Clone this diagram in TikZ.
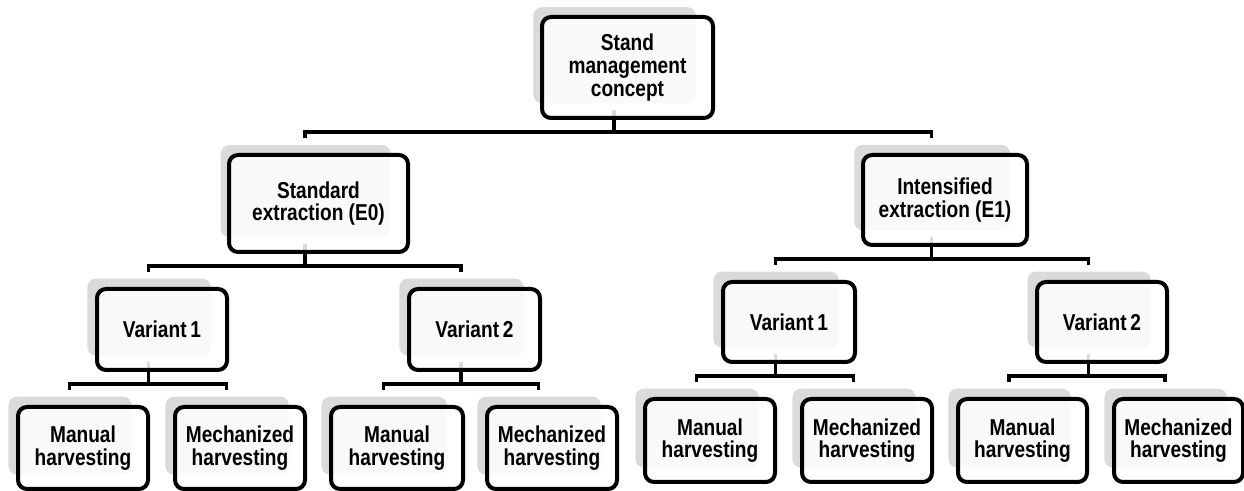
\documentclass[tikz,border=0pt]{standalone}
\usepackage{fontspec}
\setmainfont{Liberation Sans}[FakeStretch=0.83]
\usetikzlibrary{shadows,calc}
\pgfdeclarelayer{bg}
\pgfsetlayers{bg,main}
\definecolor{shadowgray}{HTML}{DADADA}
\tikzset{
  box/.style={draw=black, line width=2pt, rounded corners=4.5pt, fill=white,
    fill opacity=0.86, text opacity=1, inner sep=0pt, align=center,
    font=\fontsize{11.5}{11.3}\selectfont\bfseries,
    general shadow={fill=shadowgray, fill opacity=1, shadow xshift=-6.75pt,
      shadow yshift=6.5pt, shadow scale=0.95}},
  conn/.style={draw=black, line width=1.8pt}
}
\begin{document}
\begin{tikzpicture}[x=0.5pt,y=-0.5pt]
\useasboundingbox (0,0) rectangle (1244,491);
% nodes
\node[box, minimum width=85.5pt, minimum height=50.5pt] (top) at (627.5,67.5) {Stand\\management\\concept};
\node[box, minimum width=89.5pt, minimum height=48.5pt] (e0) at (318.5,203.5) {Standard\\extraction (E0)};
\node[box, minimum width=82pt, minimum height=45pt] (e1) at (945,200) {Intensified\\extraction (E1)};
\node[box, minimum width=65pt, minimum height=40.5pt] (lv1) at (162,329.5) {Variant\,1};
\node[box, minimum width=65.5pt, minimum height=40.5pt] (lv2) at (474.5,329.5) {Variant\,2};
\node[box, minimum width=66pt, minimum height=40pt] (rv1) at (789,322) {Variant\,1};
\node[box, minimum width=65pt, minimum height=40pt] (rv2) at (1102,322) {Variant\,2};
\node[box, minimum width=65pt, minimum height=41pt] (lm1) at (83,448) {Manual\\harvesting};
\node[box, minimum width=65pt, minimum height=41pt] (lz1) at (240,448) {Mechanized\\harvesting};
\node[box, minimum width=66pt, minimum height=41pt] (lm2) at (397,448) {Manual\\harvesting};
\node[box, minimum width=65pt, minimum height=41pt] (lz2) at (552,448) {Mechanized\\harvesting};
\node[box, minimum width=65pt, minimum height=41.5pt] (rm1) at (710,440.5) {Manual\\harvesting};
\node[box, minimum width=65pt, minimum height=41.5pt] (rz1) at (867,440.5) {Mechanized\\harvesting};
\node[box, minimum width=64.5pt, minimum height=41.5pt] (rm2) at (1022.5,440.5) {Manual\\harvesting};
\node[box, minimum width=64.5pt, minimum height=41.5pt] (rz2) at (1178.5,440.5) {Mechanized\\harvesting};
% connectors
\begin{pgfonlayer}{bg}
\foreach \p/\a/\b in {top/e0/e1, e0/lv1/lv2, e1/rv1/rv2, lv1/lm1/lz1, lv2/lm2/lz2, rv1/rm1/rz1, rv2/rm2/rz2}{
  \draw[conn] ($(\p.south)+(-13.5,-10)$) -- ($(\p.south)+(-13.5,12)$);
  \draw[conn] ($(\a.north)+(-13.5,-15)$) |- ($(\p.south)+(-13.5,12)$) -| ($(\b.north)+(-13.5,-15)$);
}
\end{pgfonlayer}
\end{tikzpicture}
\end{document}
